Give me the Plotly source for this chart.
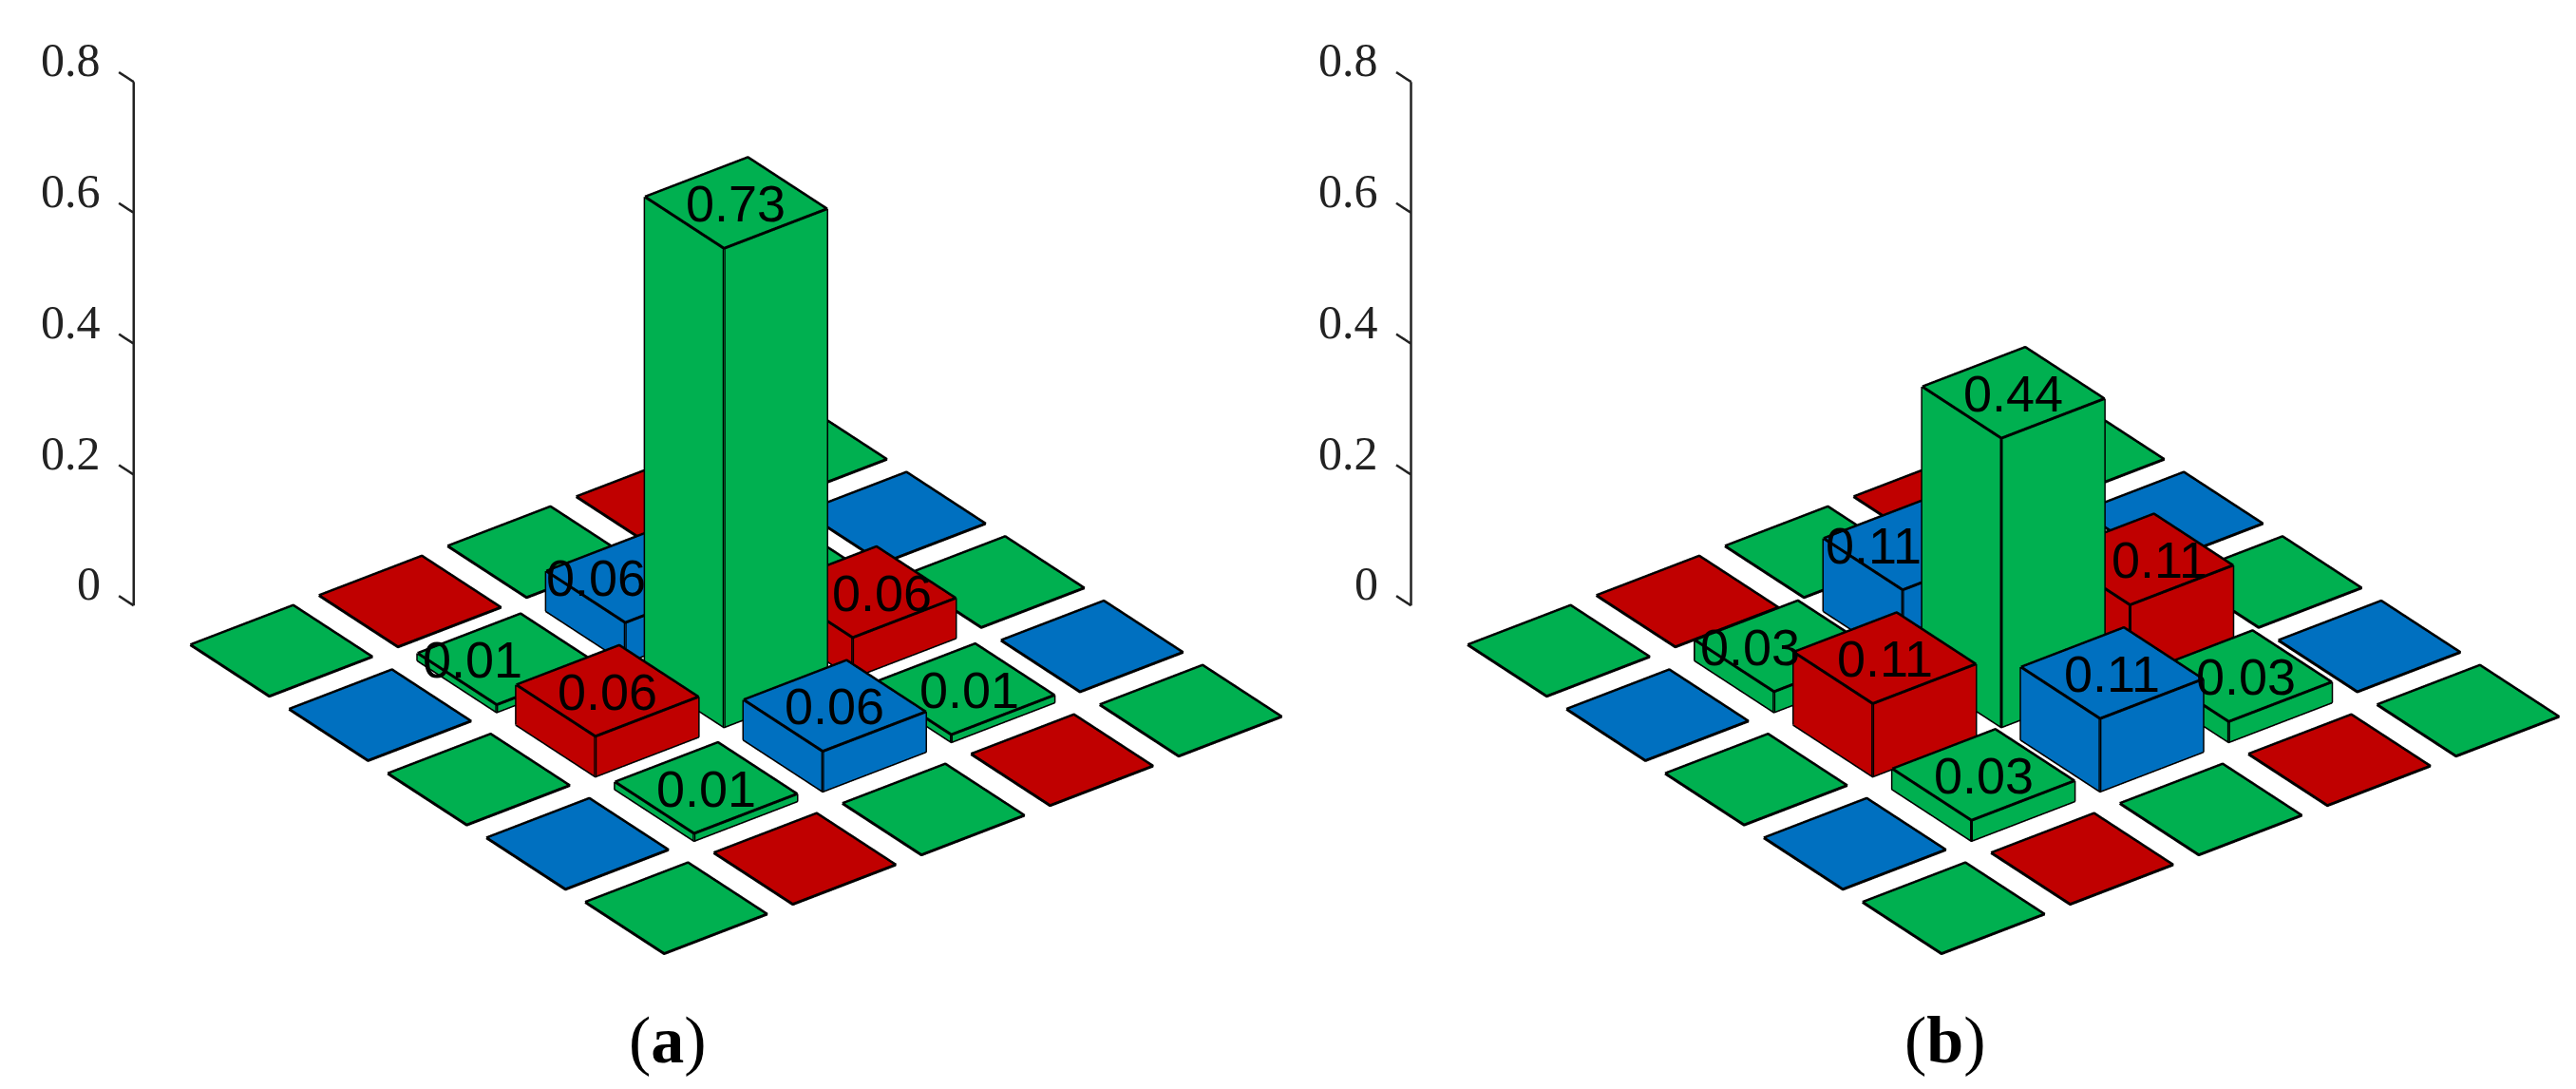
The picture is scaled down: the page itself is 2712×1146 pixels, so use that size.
"""Two 3D bar panels (a) and (b) on a 5x5 grid."""

import math
import plotly.graph_objects as go

GREEN = "#00B050"
RED = "#C00000"
BLUE = "#0070C0"

# rows run down-right on screen, columns up-right
colors_grid = [
    [GREEN, RED, GREEN, RED, GREEN],
    [BLUE, GREEN, BLUE, GREEN, BLUE],
    [GREEN, RED, GREEN, RED, GREEN],
    [BLUE, GREEN, BLUE, GREEN, BLUE],
    [GREEN, RED, GREEN, RED, GREEN],
]
values_a = [
    [0, 0, 0, 0, 0],
    [0, 0.01, 0.06, 0.01, 0],
    [0, 0.06, 0.73, 0.06, 0],
    [0, 0.01, 0.06, 0.01, 0],
    [0, 0, 0, 0, 0],
]
values_b = [
    [0, 0, 0, 0, 0],
    [0, 0.03, 0.11, 0.03, 0],
    [0, 0.11, 0.44, 0.11, 0],
    [0, 0.03, 0.11, 0.03, 0],
    [0, 0, 0, 0, 0],
]
# the label on this bar sits behind the tall one
hidden_label = (1, 3)
# labels the original did not centre on their bar (px)
label_nudge = {(1, 1): -38, (1, 2): -43, (2, 3): 18, (3, 3): 6}

tick_vals = [0, 0.2, 0.4, 0.6, 0.8]
tick_text = ["0", "0.2", "0.4", "0.6", "0.8"]

BAR_HALF = 0.4
Z_STRETCH = 4.66
EDGE_LIFT = 0.001  # keeps outlines off the faces they sit on
PX_PER_UNIT = 563  # ortho scale plotly gives at this canvas height
K = 0.2979
AZ = math.radians(37.5)
EL = math.radians(30)
DIST = 2.0
X_RANGE = [-0.2, 5.45]
Y_RANGE = [0.55, 5.45]
Z_RANGE = [0, 0.8]
AXIS_X = -0.003
AXIS_Y = 0.622
TICK_LEN = 0.15


def add_panel(fig, values, scene, dx, dy):
    meshes = {}
    ex, ey, ez = [], [], []
    notes = []
    for r, row in enumerate(values):
        for c, h in enumerate(row):
            x0, x1 = r + 1 - BAR_HALF, r + 1 + BAR_HALF
            y0, y1 = c + 1 - BAR_HALF, c + 1 + BAR_HALF
            m = meshes.setdefault(colors_grid[r][c], dict(x=[], y=[], z=[], i=[], j=[], k=[]))
            n = len(m["x"])
            m["x"] += [x0, x1, x1, x0, x0, x1, x1, x0]
            m["y"] += [y0, y0, y1, y1, y0, y0, y1, y1]
            m["z"] += [0, 0, 0, 0, h, h, h, h]
            for a, b, d in [(4, 5, 6), (4, 6, 7), (0, 1, 5), (0, 5, 4), (1, 2, 6), (1, 6, 5),
                            (2, 3, 7), (2, 7, 6), (3, 0, 4), (3, 4, 7)]:
                m["i"].append(n + a)
                m["j"].append(n + b)
                m["k"].append(n + d)
            # top outline
            top = h + EDGE_LIFT
            ex += [x0, x1, x1, x0, x0, None]
            ey += [y0, y0, y1, y1, y0, None]
            ez += [top, top, top, top, top, None]
            if h > 0:
                # edges facing the viewer
                ex += [x0, x0, x1, x1, x1, None, x1, x1, x1, x1, None]
                ey += [y0, y0, y0, y0, y1, None, y0, y0, y1, y1, None]
                ez += [top, 0, 0, 0, 0, None, top, 0, 0, top, None]
                if (r, c) != hidden_label:
                    notes.append(dict(x=r + 1, y=c + 1, z=h, text=f"{h:.2f}", showarrow=False,
                                      xshift=label_nudge.get((r, c), 0), yshift=0,
                                      font=dict(family="Liberation Sans", size=54, color="black")))
    # z axis with ticks pointing away from the grid
    ax, ay, az = [AXIS_X, AXIS_X, None], [AXIS_Y, AXIS_Y, None], [Z_RANGE[0], Z_RANGE[1], None]
    for t, label in zip(tick_vals, tick_text):
        ax += [AXIS_X, AXIS_X - TICK_LEN, None]
        ay += [AXIS_Y, AXIS_Y, None]
        az += [t, t, None]
        notes.append(dict(x=AXIS_X, y=AXIS_Y, z=t, text=label, showarrow=False,
                          xanchor="right", xshift=-33, yshift=23,
                          font=dict(family="Liberation Serif", size=50, color="#222222")))
    for col, m in meshes.items():
        fig.add_trace(go.Mesh3d(
            **m, color=col, flatshading=True, hoverinfo="skip", scene=scene,
            lighting=dict(ambient=1, diffuse=0, specular=0, roughness=1, fresnel=0),
        ))
    fig.add_trace(go.Scatter3d(
        x=ex, y=ey, z=ez, mode="lines", line=dict(color="black", width=6),
        hoverinfo="skip", showlegend=False, scene=scene,
    ))
    fig.add_trace(go.Scatter3d(
        x=ax, y=ay, z=az, mode="lines", line=dict(color="#222222", width=5),
        hoverinfo="skip", showlegend=False, scene=scene,
    ))
    right = (math.sin(AZ), math.cos(AZ), 0)
    up = (-math.cos(AZ) * math.sin(EL), math.sin(AZ) * math.sin(EL), math.cos(EL))
    view = (math.cos(EL) * math.cos(AZ), -math.cos(EL) * math.sin(AZ), math.sin(EL))
    center = [-(dx * right[i] + dy * up[i]) / PX_PER_UNIT for i in range(3)]
    eye = [center[i] + DIST * view[i] for i in range(3)]
    hidden = dict(visible=False)
    return dict(
        xaxis=dict(range=X_RANGE, **hidden),
        yaxis=dict(range=Y_RANGE, **hidden),
        zaxis=dict(range=Z_RANGE, **hidden),
        aspectmode="manual",
        aspectratio=dict(
            x=(X_RANGE[1] - X_RANGE[0]) * K,
            y=(Y_RANGE[1] - Y_RANGE[0]) * K,
            z=(Z_RANGE[1] - Z_RANGE[0]) * Z_STRETCH * K,
        ),
        camera=dict(
            projection=dict(type="orthographic"),
            up=dict(x=0, y=0, z=1),
            center=dict(x=center[0], y=center[1], z=center[2]),
            eye=dict(x=eye[0], y=eye[1], z=eye[2]),
        ),
        annotations=notes,
        bgcolor="white",
    )


fig = go.Figure()
scene_a = add_panel(fig, values_a, "scene", 49, 162)
scene_b = add_panel(fig, values_b, "scene2", 38, 162)
scene_a["domain"] = dict(x=[0, 0.5], y=[0, 1])
scene_b["domain"] = dict(x=[0.5, 1], y=[0, 1])
caption_font = dict(family="Liberation Serif", size=70, color="black")
fig.update_layout(
    width=2712, height=1146, margin=dict(l=0, r=0, t=0, b=0),
    paper_bgcolor="white", showlegend=False,
    scene=scene_a, scene2=scene_b,
    annotations=[
        dict(text="(<b>a</b>)", x=695 / 2712, y=1 - 1086 / 1146, xref="paper", yref="paper",
             xanchor="center", yanchor="middle", showarrow=False, font=caption_font),
        dict(text="(<b>b</b>)", x=2040 / 2712, y=1 - 1086 / 1146, xref="paper", yref="paper",
             xanchor="center", yanchor="middle", showarrow=False, font=caption_font),
    ],
)
fig.write_html("out.html")
